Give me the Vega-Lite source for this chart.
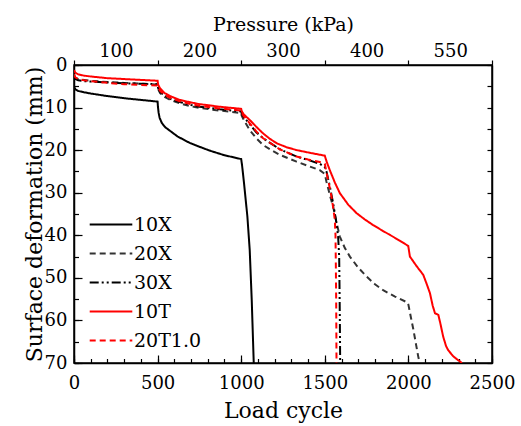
{
  "$schema": "https://vega.github.io/schema/vega-lite/v6.json",
  "width": 418,
  "height": 298,
  "autosize": "none",
  "padding": {"left": 74, "top": 65, "right": 29, "bottom": 63},
  "config": {
    "font": "DejaVu Serif",
    "view": {"stroke": "#000", "strokeWidth": 1.5},
    "axis": {
      "labelFont": "DejaVu Serif", "titleFont": "DejaVu Serif",
      "labelFontSize": 18, "titleFontSize": 22, "titleFontWeight": "normal",
      "labelColor": "#000", "titleColor": "#000", "tickColor": "#000", "domainColor": "#000",
      "grid": false, "labelFlush": false, "labelOverlap": false, "tickWidth": 1.2, "domainWidth": 1.5
    },
    "legend": {
      "labelFont": "DejaVu Serif", "labelFontSize": 19, "labelColor": "#000",
      "symbolType": "M-1.2,0H1.2", "symbolSize": 1260, "symbolStrokeWidth": 2
    }
  },
  "layer": [
    {
      "data": {"values": [
        {"s":"10X","c":0,"d":5.1},{"s":"10X","c":8,"d":5.7},{"s":"10X","c":25,"d":6.1},{"s":"10X","c":60,"d":6.4},{"s":"10X","c":100,"d":6.7},{"s":"10X","c":200,"d":7.3},{"s":"10X","c":300,"d":7.8},{"s":"10X","c":400,"d":8.2},{"s":"10X","c":500,"d":8.6},{"s":"10X","c":502,"d":9.8},{"s":"10X","c":506,"d":11.2},{"s":"10X","c":512,"d":12.4},{"s":"10X","c":525,"d":13.6},{"s":"10X","c":545,"d":14.6},{"s":"10X","c":572,"d":15.4},{"s":"10X","c":620,"d":16.8},{"s":"10X","c":692,"d":18.3},{"s":"10X","c":750,"d":19.2},{"s":"10X","c":811,"d":20.1},{"s":"10X","c":900,"d":21.2},{"s":"10X","c":1000,"d":22.1},{"s":"10X","c":1005,"d":23.5},{"s":"10X","c":1017,"d":27.8},{"s":"10X","c":1037,"d":35.6},{"s":"10X","c":1051,"d":43.5},{"s":"10X","c":1063,"d":55.2},{"s":"10X","c":1075,"d":70},
        {"s":"20X","c":0,"d":2.5},{"s":"20X","c":8,"d":3.0},{"s":"20X","c":25,"d":3.3},{"s":"20X","c":60,"d":3.5},{"s":"20X","c":100,"d":3.7},{"s":"20X","c":200,"d":4.0},{"s":"20X","c":300,"d":4.2},{"s":"20X","c":400,"d":4.4},{"s":"20X","c":500,"d":4.6},{"s":"20X","c":503,"d":5.6},{"s":"20X","c":515,"d":6.6},{"s":"20X","c":542,"d":7.5},{"s":"20X","c":580,"d":8.3},{"s":"20X","c":632,"d":9.0},{"s":"20X","c":700,"d":9.7},{"s":"20X","c":751,"d":10.1},{"s":"20X","c":871,"d":10.7},{"s":"20X","c":1000,"d":11.3},{"s":"20X","c":1003,"d":11.9},{"s":"20X","c":1015,"d":12.9},{"s":"20X","c":1051,"d":15.3},{"s":"20X","c":1090,"d":17.2},{"s":"20X","c":1131,"d":18.8},{"s":"20X","c":1180,"d":20.0},{"s":"20X","c":1231,"d":21.1},{"s":"20X","c":1331,"d":22.7},{"s":"20X","c":1400,"d":23.7},{"s":"20X","c":1470,"d":24.7},{"s":"20X","c":1500,"d":25.6},{"s":"20X","c":1510,"d":27.4},{"s":"20X","c":1530,"d":30.5},{"s":"20X","c":1550,"d":33.3},{"s":"20X","c":1570,"d":37.0},{"s":"20X","c":1590,"d":40.3},{"s":"20X","c":1620,"d":43.0},{"s":"20X","c":1650,"d":45.0},{"s":"20X","c":1700,"d":47.6},{"s":"20X","c":1750,"d":49.7},{"s":"20X","c":1800,"d":51.5},{"s":"20X","c":1849,"d":52.9},{"s":"20X","c":1920,"d":54.4},{"s":"20X","c":1995,"d":55.8},{"s":"20X","c":2000,"d":56.3},{"s":"20X","c":2015,"d":59.3},{"s":"20X","c":2029,"d":62.0},{"s":"20X","c":2045,"d":65.5},{"s":"20X","c":2059,"d":68.5},{"s":"20X","c":2068,"d":70},
        {"s":"30X","c":0,"d":2.8},{"s":"30X","c":8,"d":3.3},{"s":"30X","c":25,"d":3.6},{"s":"30X","c":60,"d":3.8},{"s":"30X","c":100,"d":3.9},{"s":"30X","c":200,"d":4.1},{"s":"30X","c":300,"d":4.3},{"s":"30X","c":400,"d":4.4},{"s":"30X","c":500,"d":4.5},{"s":"30X","c":503,"d":5.4},{"s":"30X","c":515,"d":6.3},{"s":"30X","c":542,"d":7.2},{"s":"30X","c":580,"d":8.0},{"s":"30X","c":632,"d":8.7},{"s":"30X","c":700,"d":9.4},{"s":"30X","c":751,"d":9.8},{"s":"30X","c":871,"d":10.4},{"s":"30X","c":1000,"d":10.9},{"s":"30X","c":1003,"d":11.4},{"s":"30X","c":1015,"d":12.2},{"s":"30X","c":1051,"d":13.9},{"s":"30X","c":1090,"d":15.8},{"s":"30X","c":1131,"d":17.2},{"s":"30X","c":1231,"d":19.8},{"s":"30X","c":1331,"d":21.5},{"s":"30X","c":1400,"d":22.3},{"s":"30X","c":1470,"d":23.2},{"s":"30X","c":1500,"d":24.0},{"s":"30X","c":1510,"d":25.0},{"s":"30X","c":1530,"d":28.5},{"s":"30X","c":1550,"d":32.5},{"s":"30X","c":1570,"d":37.2},{"s":"30X","c":1580,"d":40.5},{"s":"30X","c":1586,"d":45.0},{"s":"30X","c":1588,"d":52},{"s":"30X","c":1590,"d":60},{"s":"30X","c":1592,"d":70},
        {"s":"10T","c":0,"d":1.2},{"s":"10T","c":8,"d":1.8},{"s":"10T","c":25,"d":2.2},{"s":"10T","c":60,"d":2.5},{"s":"10T","c":100,"d":2.7},{"s":"10T","c":200,"d":3.1},{"s":"10T","c":300,"d":3.3},{"s":"10T","c":400,"d":3.5},{"s":"10T","c":500,"d":3.7},{"s":"10T","c":503,"d":4.6},{"s":"10T","c":515,"d":5.5},{"s":"10T","c":542,"d":6.6},{"s":"10T","c":580,"d":7.4},{"s":"10T","c":632,"d":8.2},{"s":"10T","c":700,"d":8.8},{"s":"10T","c":751,"d":9.2},{"s":"10T","c":871,"d":9.8},{"s":"10T","c":1000,"d":10.3},{"s":"10T","c":1003,"d":10.8},{"s":"10T","c":1015,"d":11.6},{"s":"10T","c":1051,"d":12.9},{"s":"10T","c":1090,"d":14.5},{"s":"10T","c":1129,"d":16.0},{"s":"10T","c":1170,"d":17.3},{"s":"10T","c":1213,"d":18.4},{"s":"10T","c":1270,"d":19.3},{"s":"10T","c":1332,"d":20.0},{"s":"10T","c":1420,"d":20.7},{"s":"10T","c":1500,"d":21.3},{"s":"10T","c":1510,"d":22.6},{"s":"10T","c":1530,"d":24.7},{"s":"10T","c":1560,"d":27.6},{"s":"10T","c":1590,"d":30.1},{"s":"10T","c":1640,"d":32.8},{"s":"10T","c":1690,"d":34.8},{"s":"10T","c":1740,"d":36.3},{"s":"10T","c":1789,"d":37.6},{"s":"10T","c":1840,"d":38.8},{"s":"10T","c":1889,"d":39.9},{"s":"10T","c":1950,"d":41.3},{"s":"10T","c":1999,"d":42.5},{"s":"10T","c":2003,"d":43.5},{"s":"10T","c":2009,"d":45.0},{"s":"10T","c":2050,"d":47.3},{"s":"10T","c":2089,"d":49.3},{"s":"10T","c":2110,"d":51.5},{"s":"10T","c":2129,"d":53.6},{"s":"10T","c":2145,"d":56.5},{"s":"10T","c":2159,"d":58.3},{"s":"10T","c":2179,"d":58.7},{"s":"10T","c":2190,"d":60.5},{"s":"10T","c":2208,"d":63.8},{"s":"10T","c":2225,"d":66.0},{"s":"10T","c":2238,"d":67.0},{"s":"10T","c":2270,"d":68.5},{"s":"10T","c":2320,"d":70},
        {"s":"20T1.0","c":0,"d":2.2},{"s":"20T1.0","c":8,"d":2.9},{"s":"20T1.0","c":25,"d":3.3},{"s":"20T1.0","c":60,"d":3.6},{"s":"20T1.0","c":100,"d":3.8},{"s":"20T1.0","c":200,"d":4.2},{"s":"20T1.0","c":300,"d":4.5},{"s":"20T1.0","c":400,"d":4.7},{"s":"20T1.0","c":500,"d":4.8},{"s":"20T1.0","c":503,"d":5.3},{"s":"20T1.0","c":515,"d":6.1},{"s":"20T1.0","c":542,"d":7.0},{"s":"20T1.0","c":580,"d":7.8},{"s":"20T1.0","c":632,"d":8.5},{"s":"20T1.0","c":700,"d":9.2},{"s":"20T1.0","c":751,"d":9.6},{"s":"20T1.0","c":871,"d":10.2},{"s":"20T1.0","c":1000,"d":10.7},{"s":"20T1.0","c":1003,"d":11.2},{"s":"20T1.0","c":1015,"d":12.0},{"s":"20T1.0","c":1051,"d":13.7},{"s":"20T1.0","c":1090,"d":15.6},{"s":"20T1.0","c":1131,"d":17.2},{"s":"20T1.0","c":1231,"d":19.8},{"s":"20T1.0","c":1331,"d":21.5},{"s":"20T1.0","c":1400,"d":22.2},{"s":"20T1.0","c":1470,"d":22.8},{"s":"20T1.0","c":1500,"d":23.2},{"s":"20T1.0","c":1510,"d":25.2},{"s":"20T1.0","c":1525,"d":28.0},{"s":"20T1.0","c":1540,"d":30.9},{"s":"20T1.0","c":1550,"d":33.5},{"s":"20T1.0","c":1560,"d":36.4},{"s":"20T1.0","c":1564,"d":40.0},{"s":"20T1.0","c":1566,"d":46.6},{"s":"20T1.0","c":1568,"d":55},{"s":"20T1.0","c":1569,"d":62},{"s":"20T1.0","c":1570,"d":70}
      ]},
      "mark": {"type": "line", "clip": true},
      "encoding": {
        "x": {"field": "c", "type": "quantitative",
          "scale": {"domain": [0, 2500], "nice": false},
          "axis": {"orient": "bottom", "values": [0, 500, 1000, 1500, 2000, 2500], "format": "d", "tickSize": -8, "labelPadding": 19,
            "title": "Load cycle", "titleFontSize": 22, "titlePadding": 8}},
        "y": {"field": "d", "type": "quantitative",
          "scale": {"domain": [0, 70], "reverse": true, "nice": false},
          "axis": {"orient": "left", "values": [0, 10, 20, 30, 40, 50, 60, 70], "tickSize": -8, "labelPadding": 15,
            "title": "Surface deformation (mm)", "titleFontSize": 22, "titlePadding": -2}},
        "color": {"field": "s", "type": "nominal",
          "scale": {"domain": ["10X", "20X", "30X", "10T", "20T1.0"], "range": ["#000000", "#333333", "#000000", "#ff0000", "#ff0000"]},
          "legend": {"orient": "none", "legendX": 18, "legendY": 140.5, "title": null, "padding": 0, "rowPadding": 0, "labelOffset": 4}},
        "strokeDash": {"field": "s", "type": "nominal",
          "scale": {"domain": ["10X", "20X", "30X", "10T", "20T1.0"], "range": [[1, 0], [6, 4], [9, 3, 2, 3, 2, 3], [1, 0], [6, 4]]},
          "legend": {"orient": "none", "legendX": 18, "legendY": 140.5, "title": null, "padding": 0, "rowPadding": 0, "labelOffset": 4}},
        "strokeWidth": {"field": "s", "type": "nominal",
          "scale": {"domain": ["10X", "20X", "30X", "10T", "20T1.0"], "range": [2, 2, 2, 2.6, 2]},
          "legend": null}
      }
    },
    {
      "data": {"values": [{"c": 0, "d": 0}]},
      "mark": {"type": "point", "opacity": 0},
      "encoding": {
        "x": {"field": "c", "type": "quantitative", "scale": {"domain": [0, 2500], "nice": false},
          "axis": {"orient": "bottom", "values": [0,100,200,300,400,500,600,700,800,900,1000,1100,1200,1300,1400,1500,1600,1700,1800,1900,2000,2100,2200,2300,2400,2500], "tickSize": -4.5, "labels": false, "domain": false, "title": null}},
        "y": {"field": "d", "type": "quantitative", "scale": {"domain": [0, 70], "reverse": true, "nice": false},
          "axis": {"orient": "right", "values": [0,5,10,15,20,25,30,35,40,45,50,55,60,65,70], "tickSize": -5, "labels": false, "domain": true, "title": null}}
      }
    },
    {
      "data": {"values": [{"c": 0, "d": 0}]},
      "mark": {"type": "point", "opacity": 0},
      "encoding": {
        "x": {"field": "c", "type": "quantitative", "scale": {"domain": [0, 2500], "nice": false},
          "axis": {"orient": "top", "values": [0, 500, 1000, 1500, 2000, 2500], "labels": false, "domain": true, "title": null,
            "encode": {"ticks": {"update": {"y": {"value": -16}, "y2": {"value": 10}}}}}},
        "y": {"field": "d", "type": "quantitative", "scale": {"domain": [0, 70], "reverse": true, "nice": false},
          "axis": {"orient": "left", "values": [0,5,10,15,20,25,30,35,40,45,50,55,60,65,70], "tickSize": -4.5, "labels": false, "domain": false, "title": null}}
      }
    },
    {
      "data": {"values": [{"c": 0, "d": 0}]},
      "mark": {"type": "point", "opacity": 0},
      "encoding": {
        "x": {"field": "c", "type": "quantitative", "scale": {"domain": [0, 2500], "nice": false},
          "axis": {"orient": "top", "values": [250, 750, 1250, 1750, 2250], "ticks": false, "domain": false, "labelPadding": 5,
            "labelExpr": "datum.value == 250 ? '100' : datum.value == 750 ? '200' : datum.value == 1250 ? '300' : datum.value == 1750 ? '400' : '550'",
            "title": "Pressure (kPa)", "titleFontSize": 19, "titlePadding": 8}},
        "y": {"field": "d", "type": "quantitative", "scale": {"domain": [0, 70], "reverse": true, "nice": false}, "axis": null}
      }
    }
  ],
  "resolve": {"scale": {"x": "independent", "y": "independent"}}
}
